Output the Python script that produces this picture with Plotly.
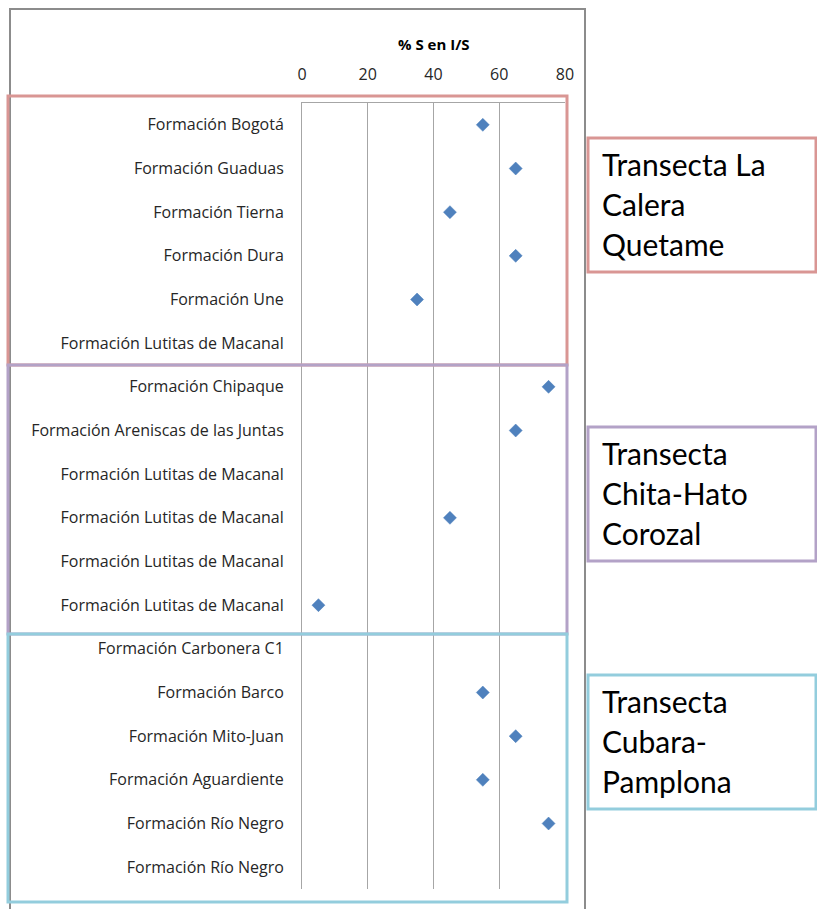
import plotly.graph_objects as go

# ---- data ----
categories = [
    "Formación Bogotá", "Formación Guaduas", "Formación Tierna", "Formación Dura",
    "Formación Une", "Formación Lutitas de Macanal",
    "Formación Chipaque", "Formación Areniscas de las Juntas",
    "Formación Lutitas de Macanal", "Formación Lutitas de Macanal",
    "Formación Lutitas de Macanal", "Formación Lutitas de Macanal",
    "Formación Carbonera C1", "Formación Barco", "Formación Mito-Juan",
    "Formación Aguardiente", "Formación Río Negro", "Formación Río Negro",
]
values = [55, 65, 45, 65, 35, None,
          75, 65, None, 45, None, 5,
          None, 55, 65, 55, 75, None]
x_ticks = [0, 20, 40, 60, 80]
axis_title = "% S en I/S"
groups = [
    ("Transecta La", "Calera", "Quetame"),
    ("Transecta", "Chita-Hato", "Corozal"),
    ("Transecta", "Cubara-", "Pamplona"),
]
group_colors = ["#D99694", "#B3A2C7", "#93CDDD"]

# ---- layout geometry (pixels) ----
W, H = 817, 909
L, R, T, B = 302, 252, 103, 20
PW, PH = W - L - R, H - T - B
FONT = "Open Sans"
BOXFONT = "Lato"
N = len(categories)
left_box_edges = [96, 365, 634, 902]      # top/bottom edges of the left group boxes
right_box_tops = [138, 427, 675]
right_box_h = 134

def px(x):
    return (x - L) / PW

def py(y):
    return (H - B - y) / PH

ys = list(range(N))

fig = go.Figure()
fig.add_trace(go.Scatter(
    x=values, y=ys, mode="markers",
    marker=dict(symbol="diamond", size=10, color="#4F81BD",
                line=dict(width=0.5, color="#4A7EBB")),
    showlegend=False, hoverinfo="x+text", text=categories,
))

shapes = []
# outer chart border
shapes.append(dict(type="rect", xref="paper", yref="paper",
                   x0=px(10), x1=px(585), y0=py(9), y1=py(915),
                   line=dict(color="#8C8C8C", width=2), layer="above"))
# group boxes on the left
for gi, c in enumerate(group_colors):
    shapes.append(dict(type="rect", xref="paper", yref="paper",
                       x0=px(8), x1=px(567),
                       y0=py(left_box_edges[gi + 1]), y1=py(left_box_edges[gi]),
                       line=dict(color=c, width=3), layer="above"))
# right-hand label boxes
annotations = []
for (lines, c, top) in zip(groups, group_colors, right_box_tops):
    shapes.append(dict(type="rect", xref="paper", yref="paper",
                       x0=px(588), x1=px(816), y0=py(top), y1=py(top + right_box_h),
                       line=dict(color=c, width=3), fillcolor="white"))
    for i, t in enumerate(lines):
        annotations.append(dict(
            text=t, xref="paper", yref="paper", x=px(600), y=py(top + 26 + 40 * i),
            xanchor="left", yanchor="middle", showarrow=False,
            font=dict(family=BOXFONT, size=30, color="#000000")))

annotations.append(dict(
    text="<b>" + axis_title + "</b>", xref="paper", yref="paper",
    x=0.5, y=py(44), xanchor="center", yanchor="middle", showarrow=False,
    font=dict(family=FONT, size=15, color="#000000")))

fig.update_layout(
    width=W, height=H,
    margin=dict(l=L, r=R, t=T, b=B, autoexpand=False),
    paper_bgcolor="white", plot_bgcolor="white",
    font=dict(family=FONT, color="#262626"),
    shapes=shapes, annotations=annotations,
)
fig.update_xaxes(
    side="top", range=[0, 80], tickvals=x_ticks, ticks="",
    showgrid=True, gridcolor="#A6A6A6", gridwidth=1,
    showline=True, linecolor="#A6A6A6", linewidth=1,
    zeroline=False, tickfont=dict(family=FONT, size=16, color="#262626"),
    ticklabelstandoff=16,
)
fig.update_yaxes(
    range=[N - 0.5, -0.5], tickvals=ys, ticktext=categories, ticks="",
    showgrid=False, showline=True, linecolor="#A6A6A6", linewidth=1,
    zeroline=False, tickfont=dict(family=FONT, size=16, color="#262626"),
    ticklabelstandoff=14,
)

fig.write_html("out.html", config={"displayModeBar": False},
               post_script="document.body.style.margin='0px';")
